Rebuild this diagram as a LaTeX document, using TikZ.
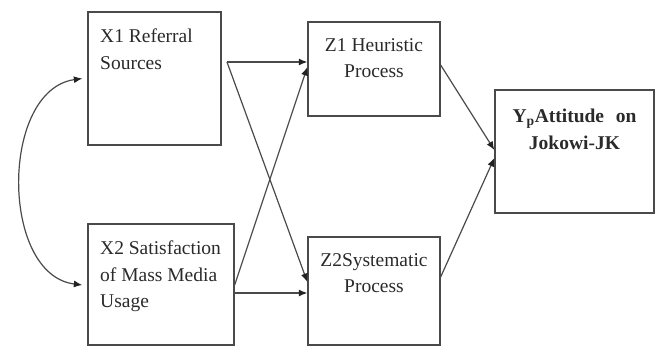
\documentclass[tikz,border=0pt]{standalone}
\usepackage{fontspec}
\setmainfont{Liberation Serif}
\usetikzlibrary{arrows.meta,calc}
\definecolor{linec}{HTML}{4A4A4A}
\definecolor{tipc}{HTML}{222222}
\definecolor{txtc}{HTML}{2A2A2A}
\begin{document}
\begin{tikzpicture}[x=1pt,y=-1pt,
  box/.style={draw=linec, line width=1.3pt, inner sep=0pt},
  lbl/.style={inner sep=0pt, text=txtc, font=\fontsize{19.5}{26.5}\selectfont},
  tip/.style={Latex[length=8.5pt,width=7pt,color=tipc]},
  conn/.style={draw=linec, line width=1.2pt, -{Latex[length=8.5pt,width=7pt,color=tipc]}}]
\useasboundingbox (0,0) rectangle (665,347);
% boxes
\node[box, minimum width=133pt, minimum height=133pt] (x1) at (154.5,78.5) {};
\node[box, minimum width=146pt, minimum height=121pt] (x2) at (161,284.5) {};
\node[box, minimum width=132pt, minimum height=94pt] (z1) at (374,69) {};
\node[box, minimum width=132pt, minimum height=108pt] (z2) at (374,291) {};
\node[box, minimum width=159pt, minimum height=123pt] (y) at (574.5,151.5) {};
% labels
\node[lbl, align=left, anchor=north west] (x1t) at (100,29) {X1 Referral\\Sources};
\node[lbl, align=left, anchor=north west] (x2t) at (100,241) {X2 Satisfaction\\of Mass Media\\Usage};
\node[lbl, align=center, anchor=north] (z1t) at (374,38) {Z1 Heuristic\\Process};
\node[lbl, align=center, anchor=north] (z2t) at (374,253) {Z2Systematic\\Process};
\node[lbl, align=center, anchor=north, font=\fontsize{19.5}{26.5}\selectfont\bfseries] (yt) at (574.5,109) {Y\textsubscript{p}Attitude\hspace{0.6em}on\\Jokowi-JK};
% connectors
\coordinate (j1) at (227,62);
\draw[conn] (j1) -- (z1.west |- j1);
\draw[conn] (j1) -- (z2.west |- 0,282);
\draw[conn] (x2.east |- 0,285) -- (z1.west |- 0,67);
\draw[conn] (x2.east |- 0,293) -- (z2.west |- 0,293);
\draw[conn] (z1.east |- 0,65) -- (y.west |- 0,150);
\draw[conn] (z2.east |- 0,277) -- (y.west |- 0,158);
\draw[draw=linec, line width=1.2pt, {Latex[length=8.5pt,width=7pt,color=tipc]}-{Latex[length=8.5pt,width=7pt,color=tipc]}]
  ($(x1.west)+(-5,0)$) .. controls (0,90) and (0,275) .. ($(x2.west |- 0,285)+(-5,0)$);
\end{tikzpicture}
\end{document}
